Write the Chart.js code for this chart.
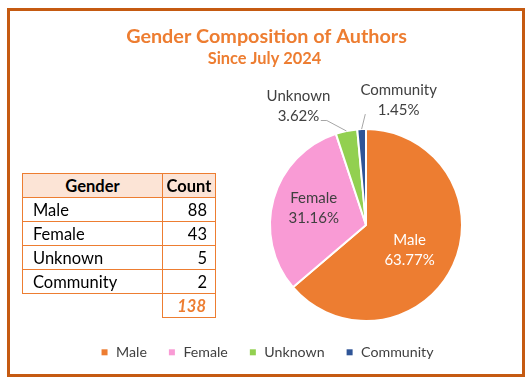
<!DOCTYPE html>
<html><head><meta charset="utf-8">
<script src="https://cdn.jsdelivr.net/npm/chart.js@4.4.1/dist/chart.umd.min.js"></script>
<style>
html,body{margin:0;padding:0;background:#fff;}
#wrap{position:relative;width:532px;height:384px;overflow:hidden;font-family:Lato,"Open Sans",sans-serif;}
#frame{position:absolute;left:7px;top:8px;width:518px;height:369px;box-sizing:border-box;border:3px solid #C55A11;}
canvas{position:absolute;left:0;top:0;}
.cell{position:absolute;box-sizing:border-box;border:1px solid #ED7D31;font-size:16.5px;color:#000;line-height:24px;white-space:nowrap;}
</style></head>
<body><div id="wrap"><div id="frame"></div><canvas id="c" width="532" height="384"></canvas><div id="tbl"></div></div>
<script>
// ---- data ----
const categories = ['Male', 'Female', 'Unknown', 'Community'];
const counts = [88, 43, 5, 2];
const totalCount = [138];
const tableHeaders = ['Gender', 'Count'];
const titleText = 'Gender Composition of Authors';
const subtitleText = 'Since July 2024';

// ---- style ----
const colors = ['#ED7D31', '#F99BD5', '#92D050', '#2F5597'];
const accent = '#ED7D31';
const textGray = '#404040';
const FONT = 'Lato, "Open Sans", sans-serif';

// ---- table (HTML) ----
(function buildTable(){
  const tbl = document.getElementById('tbl');
  const x0 = 22, x1 = 162, x2 = 215, y0 = 173, rh = 24;
  function cell(left, top, w, text, opts){
    const d = document.createElement('div');
    d.className = 'cell';
    d.style.left = left + 'px'; d.style.top = top + 'px';
    d.style.width = w + 'px'; d.style.height = (rh + 1) + 'px';
    Object.assign(d.style, opts || {});
    d.textContent = text;
    tbl.appendChild(d);
  }
  cell(x0, y0, x1 - x0 + 1, tableHeaders[0], {background:'#FCE4D6', fontWeight:'bold', textAlign:'center'});
  cell(x1, y0, x2 - x1 + 1, tableHeaders[1], {background:'#FCE4D6', fontWeight:'bold', textAlign:'center'});
  categories.forEach((c, i) => {
    const top = y0 + rh * (i + 1);
    cell(x0, top, x1 - x0 + 1, c, {paddingLeft:'10px'});
    cell(x1, top, x2 - x1 + 1, String(counts[i]), {textAlign:'right', paddingRight:'8px'});
  });
  cell(x1, y0 + rh * (categories.length + 1), x2 - x1 + 1, String(totalCount[0]),
       {textAlign:'right', paddingRight:'9px', fontWeight:'bold', fontStyle:'italic', color:accent});
})();

// ---- label placement (style) ----
const labelStyle = [
  {inside:true,  f:0.50,  dy:0,    color:'#FFFFFF'},
  {inside:true,  f:0.565, dy:-7.7, color:textGray},
  {inside:false, dx:-48,  dy:-30.5, color:textGray, side:'left'},
  {inside:false, dx:37,   dy:-34,   color:textGray, side:'right'}
];

const decor = {
  id:'decor',
  afterDraw(chart){
    const ctx = chart.ctx;
    ctx.save();
    // titles
    ctx.fillStyle = accent;
    ctx.textAlign = 'center';
    ctx.textBaseline = 'alphabetic';
    ctx.font = 'bold 19.8px ' + FONT;
    ctx.fillText(titleText, 266.5, 43);
    ctx.font = 'bold 16.4px ' + FONT;
    ctx.fillText(subtitleText, 264.5, 63.8);

    // data labels
    const total = counts.reduce((a, b) => a + b, 0);
    const meta = chart.getDatasetMeta(0);
    ctx.font = '15px ' + FONT;
    meta.data.forEach((arc, i) => {
      const p = arc.getProps(['x','y','startAngle','endAngle','outerRadius'], true);
      const mid = (p.startAngle + p.endAngle) / 2;
      const st = labelStyle[i];
      const pct = (counts[i] / total * 100).toFixed(2) + '%';
      let ax, ay;
      if (st.inside) {
        ax = p.x + Math.cos(mid) * p.outerRadius * st.f;
        ay = p.y + Math.sin(mid) * p.outerRadius * st.f + st.dy;
      } else {
        const ex = p.x + Math.cos(mid) * p.outerRadius;
        const ey = p.y + Math.sin(mid) * p.outerRadius;
        ax = ex + st.dx; ay = ey + st.dy;
        const w2 = ctx.measureText(pct).width;
        ctx.strokeStyle = '#A6A6A6';
        ctx.lineWidth = 1;
        ctx.beginPath();
        if (st.side === 'left') {
          const sx = ax + w2 / 2 + 1.5, sy = ay + 20;
          ctx.moveTo(sx, sy); ctx.lineTo(sx + 6, sy); ctx.lineTo(ex, ey);
        } else {
          const sx = ax - w2 / 2 - 12.5, sy = ay + 19;
          ctx.moveTo(sx, sy); ctx.lineTo(ex, ey);
        }
        ctx.stroke();
      }
      ctx.fillStyle = st.color;
      ctx.textAlign = 'center';
      ctx.fillText(categories[i], ax, ay);
      ctx.fillText(pct, ax, ay + 20);
    });

    // legend
    ctx.font = '14.2px ' + FONT;
    const sq = 6, gapText = 14.5, gapItem = 22;
    const widths = categories.map(c => ctx.measureText(c).width);
    const totalW = widths.reduce((a, w) => a + gapText + w, 0) + gapItem * (categories.length - 1);
    let lx = 267.5 - totalW / 2;
    const ly = 356.7;
    ctx.textAlign = 'left';
    categories.forEach((c, i) => {
      ctx.fillStyle = colors[i];
      ctx.fillRect(lx, ly - 7.4, sq, sq);
      ctx.fillStyle = textGray;
      ctx.fillText(c, lx + gapText, ly);
      lx += gapText + widths[i] + gapItem;
    });
    ctx.restore();
  }
};

new Chart(document.getElementById('c'), {
  type: 'pie',
  data: {
    labels: categories,
    datasets: [{ data: counts, backgroundColor: colors, borderColor: '#FFFFFF', borderWidth: 2 }]
  },
  options: {
    responsive: false,
    animation: false,
    events: [],
    layout: { padding: { left: 269, right: 69, top: 128, bottom: 62 } },
    plugins: { legend: { display: false }, title: { display: false }, tooltip: { enabled: false } }
  },
  plugins: [decor]
});
</script>
</body></html>
